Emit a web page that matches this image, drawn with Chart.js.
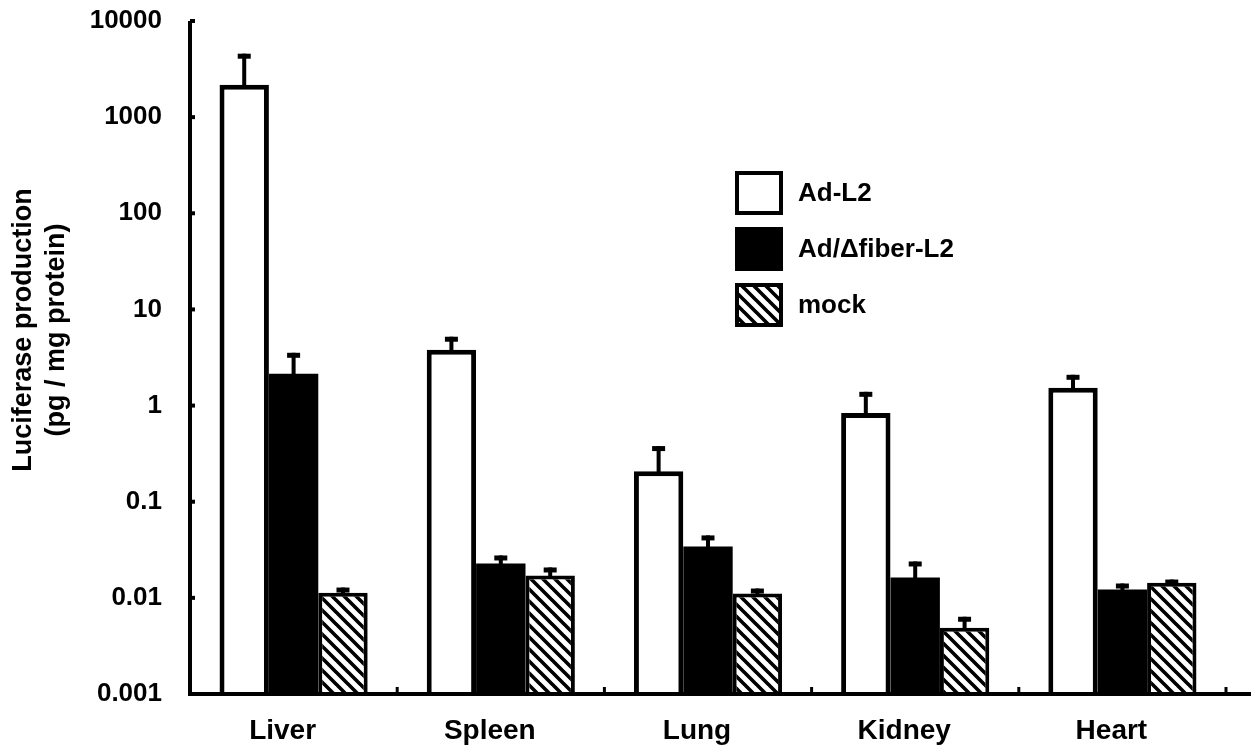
<!DOCTYPE html>
<html>
<head>
<meta charset="utf-8">
<title>Luciferase production</title>
<script src="https://cdn.jsdelivr.net/npm/chart.js"></script>
<style>
  body { margin: 0; background: #fff; }
  #wrap { width: 1257px; height: 749px; }
</style>
</head>
<body>
<div id="wrap"><canvas id="chart"></canvas></div>
<script>
// datos
const categories = ['Liver', 'Spleen', 'Lung', 'Kidney', 'Heart'];
const adL2 = [2170, 3.8, 0.208, 0.837, 1.53];
const adL2Err = [4570, 5.2, 0.379, 1.39, 2.09];
const adFiber = [2.14, 0.0228, 0.0342, 0.0163, 0.0122];
const adFiberErr = [3.54, 0.0276, 0.0446, 0.0239, 0.0141];
const mock = [0.0113, 0.0171, 0.0111, 0.00489, 0.0144];
const mockErr = [0.0128, 0.0207, 0.0125, 0.00636, 0.0155];
const yTicks = [0.001, 0.01, 0.1, 1, 10, 100, 1000, 10000];
const yTickLabels = ['0.001', '0.01', '0.1', '1', '10', '100', '1000', '10000'];
const yTitle = ['Luciferase production', '(pg / mg protein)'];

const FONT = '"Liberation Sans", Arial, sans-serif';

// rayado diagonal para "mock"
function hatch() {
  const s = 12;
  const c = document.createElement('canvas');
  c.width = s; c.height = s;
  const g = c.getContext('2d');
  g.fillStyle = '#fff';
  g.fillRect(0, 0, s, s);
  g.strokeStyle = '#000';
  g.lineWidth = 3.6;
  g.beginPath();
  for (let k = -1; k <= 1; k++) {
    g.moveTo(-1, k * s - 1);
    g.lineTo(s + 1, s + k * s + 1);
  }
  g.stroke();
  return g.createPattern(c, 'repeat');
}
const hatchFill = hatch();

// barras de error (solo hacia arriba)
const errorBars = {
  id: 'errorBars',
  afterDatasetsDraw(chart) {
    const ctx = chart.ctx;
    const y = chart.scales.y;
    ctx.save();
    ctx.fillStyle = '#000';
    chart.data.datasets.forEach((ds, i) => {
      chart.getDatasetMeta(i).data.forEach((bar, j) => {
        const top = y.getPixelForValue(ds.errors[j]);
        ctx.fillRect(bar.x - 2, top, 4, bar.y - top + 2);
        ctx.fillRect(bar.x - 6.5, top, 13, 5);
      });
    });
    ctx.restore();
  }
};

// ejes, marcas interiores, titulo del eje y leyenda
const decor = {
  id: 'decor',
  afterDraw(chart) {
    const ctx = chart.ctx;
    const a = chart.chartArea;
    const x = chart.scales.x;
    const y = chart.scales.y;
    ctx.save();
    ctx.fillStyle = '#000';
    // ejes
    ctx.fillRect(a.left - 2, a.top, 4, a.bottom - a.top + 2);
    ctx.fillRect(a.left - 2, a.bottom - 2, chart.width - 4 - a.left, 4);
    // marcas del eje y
    yTicks.forEach(v => {
      const py = y.getPixelForValue(v);
      ctx.fillRect(a.left, py - 2, 5, 4);
    });
    // marcas entre categorias
    const step = x.getPixelForValue(1) - x.getPixelForValue(0);
    categories.forEach((c, i) => {
      const px = x.getPixelForValue(i) + step / 2;
      ctx.fillRect(px - 1.5, a.bottom - 7, 3, 6);
    });
    // titulo del eje y
    ctx.font = 'bold 27px ' + FONT;
    ctx.textAlign = 'center';
    ctx.textBaseline = 'middle';
    const cy = 330;
    [24, 57].forEach((cx, i) => {
      ctx.save();
      ctx.translate(cx, cy);
      ctx.rotate(-Math.PI / 2);
      ctx.fillText(yTitle[i], 0, 0);
      ctx.restore();
    });
    // leyenda
    ctx.font = 'bold 26px ' + FONT;
    ctx.textAlign = 'left';
    chart.data.datasets.forEach((ds, i) => {
      const bx = 735, by = 171 + i * 56, bw = 48, bh = 44;
      ctx.fillStyle = ds.backgroundColor;
      ctx.fillRect(bx, by, bw, bh);
      if (ds.borderWidth) {
        ctx.strokeStyle = '#000';
        ctx.lineWidth = 4;
        ctx.strokeRect(bx + 2, by + 2, bw - 4, bh - 4);
      }
      ctx.fillStyle = '#000';
      ctx.fillText(ds.label, 798, by + bh / 2 + 1);
    });
    ctx.restore();
  }
};

new Chart(document.getElementById('chart'), {
  type: 'bar',
  data: {
    labels: categories,
    datasets: [
      { label: 'Ad-L2', data: adL2, errors: adL2Err, backgroundColor: '#fff', borderColor: '#000', borderWidth: 5 },
      { label: 'Ad/\u0394fiber-L2', data: adFiber, errors: adFiberErr, backgroundColor: '#000', borderWidth: 0 },
      { label: 'mock', data: mock, errors: mockErr, backgroundColor: hatchFill, borderColor: '#000', borderWidth: 4 }
    ]
  },
  options: {
    responsive: true,
    maintainAspectRatio: false,
    animation: false,
    layout: { padding: { top: 21, right: 31, left: 0, bottom: 0 } },
    datasets: { bar: { categoryPercentage: 0.715, barPercentage: 1, borderSkipped: 'bottom' } },
    plugins: { legend: { display: false }, tooltip: { enabled: false } },
    scales: {
      x: {
        grid: { display: false, drawTicks: false },
        border: { display: false },
        afterFit: s => { s.height = 55; },
        ticks: { color: '#000', padding: 20, labelOffset: -11, maxRotation: 0, font: { family: FONT, size: 28, weight: 'bold' } }
      },
      y: {
        type: 'logarithmic',
        min: 0.001,
        max: 10000,
        grid: { display: false, drawTicks: true, tickLength: 28 },
        border: { display: false },
        afterFit: s => { s.width = 190; },
        afterBuildTicks: s => { s.ticks = yTicks.map(v => ({ value: v })); },
        ticks: {
          color: '#000',
          padding: 0,
          font: { family: FONT, size: 26, weight: 'bold' },
          callback: (v, i) => yTickLabels[i]
        }
      }
    }
  },
  plugins: [errorBars, decor]
});
</script>
</body>
</html>
